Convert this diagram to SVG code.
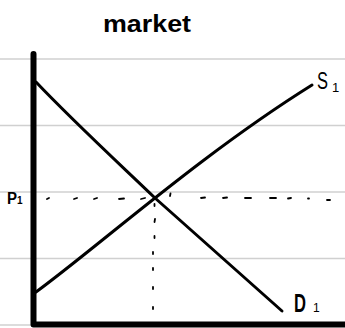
<svg xmlns="http://www.w3.org/2000/svg" width="345" height="328" viewBox="0 0 345 328">
<style>
.rule{stroke:#d0d0d0;stroke-width:1.5;fill:none}
.curve{stroke:#000;stroke-width:3;fill:none;stroke-linecap:round;stroke-linejoin:round}
.axis{stroke:#000;stroke-width:6;fill:none;stroke-linecap:round;stroke-linejoin:round}
.dot{stroke:#000;stroke-width:1.8;fill:none;stroke-linecap:round}
.lbl{font-family:"Comic Sans MS","Liberation Sans",sans-serif;fill:#000}
</style>
<rect width="345" height="328" fill="#fff"/>
<g id="ruling">
<line class="rule" x1="0" y1="59" x2="345" y2="59"/>
<line class="rule" x1="0" y1="125.5" x2="345" y2="125.5"/>
<line class="rule" x1="0" y1="192" x2="345" y2="192"/>
<line class="rule" x1="0" y1="258.5" x2="345" y2="258.5"/>
<line class="rule" x1="0" y1="325" x2="345" y2="325"/>
</g>
<g id="title"><text class="lbl" x="103" y="32" font-size="24" font-weight="600" textLength="88" lengthAdjust="spacingAndGlyphs">market</text></g>
<g id="axes"><path class="axis" d="M33.5,54 L33.5,324.5 L345,324.5"/></g>
<g id="connectors">
<path id="demand" class="curve" d="M36,82 C70,118 110,155 155,198 L282,311"/>
<path id="supply" class="curve" d="M36,292 C100,245 200,155 312,85"/>
<g id="p1-guide">
<line class="dot" x1="47" y1="199" x2="49" y2="198"/>
<line class="dot" x1="74" y1="199" x2="77" y2="198"/>
<line class="dot" x1="94" y1="199" x2="97" y2="198"/>
<line class="dot" x1="119" y1="199" x2="124" y2="198.5"/>
<line class="dot" x1="141" y1="199" x2="145" y2="198"/>
<line class="dot" x1="170" y1="196" x2="170.5" y2="193.5"/>
<line class="dot" x1="201" y1="198" x2="205" y2="197.5"/>
<line class="dot" x1="223" y1="198" x2="227" y2="197.5"/>
<line class="dot" x1="245" y1="198" x2="251" y2="198"/>
<line class="dot" x1="270" y1="198" x2="276" y2="198"/>
<line class="dot" x1="288" y1="198.5" x2="291" y2="198"/>
<line class="dot" x1="308" y1="198.5" x2="309" y2="198.5"/>
<line class="dot" x1="327" y1="200" x2="330" y2="200"/>
</g>
<g id="q1-guide">
<line class="dot" x1="154.5" y1="204" x2="154.5" y2="206"/>
<line class="dot" x1="155" y1="219" x2="154.5" y2="222"/>
<line class="dot" x1="154.5" y1="236" x2="154.5" y2="238"/>
<line class="dot" x1="153" y1="252" x2="153" y2="254"/>
<line class="dot" x1="153" y1="268" x2="153" y2="270"/>
<line class="dot" x1="153" y1="287" x2="153" y2="289"/>
<line class="dot" x1="153" y1="307" x2="153" y2="309"/>
</g>
</g>
<g id="label-s1"><text class="lbl" x="317" y="89" font-size="24" textLength="11" lengthAdjust="spacingAndGlyphs">S</text><text class="lbl" x="332" y="92" font-size="13">1</text></g>
<g id="label-p1"><text class="lbl" x="7" y="204" font-size="16" font-weight="bold" textLength="10" lengthAdjust="spacingAndGlyphs">P</text><text class="lbl" x="17" y="204" font-size="10" font-weight="bold">1</text></g>
<g id="label-d1"><text class="lbl" x="294" y="312" font-size="26" font-weight="bold" textLength="12" lengthAdjust="spacingAndGlyphs">D</text><text class="lbl" x="313" y="312" font-size="12">1</text></g>
</svg>
